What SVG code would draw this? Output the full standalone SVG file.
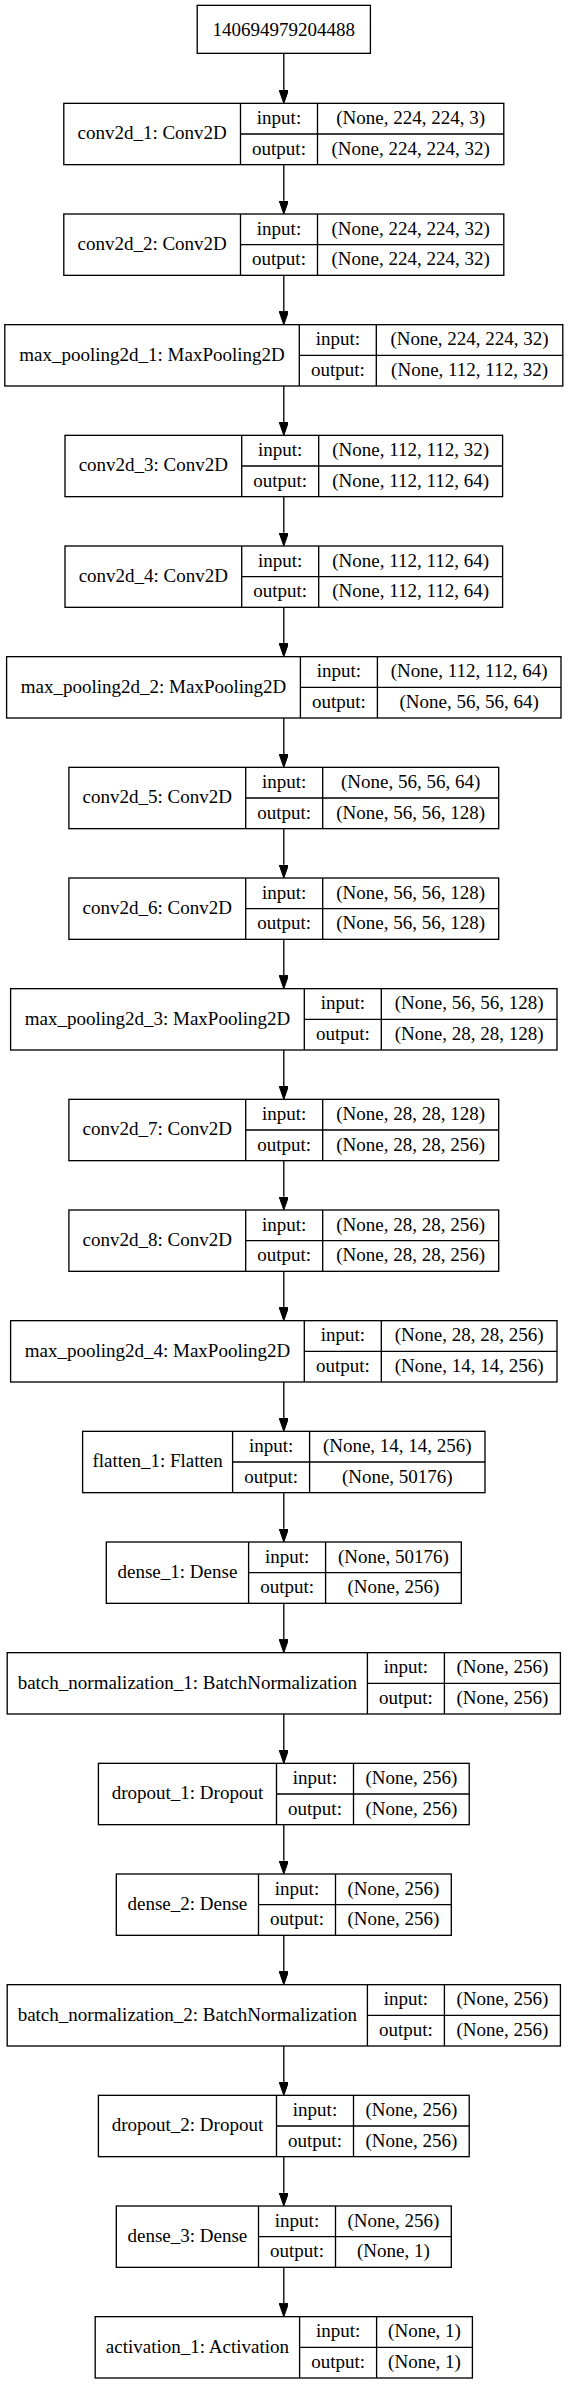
<svg xmlns="http://www.w3.org/2000/svg" width="569" height="2384" viewBox="0 0 569 2384">
<style>
text{font-family:"Liberation Serif","Times New Roman",serif;font-size:19px;fill:#000;text-anchor:middle}
.b{fill:#fff;stroke:#000;stroke-width:1.33}
.d{stroke:#000;stroke-width:1.33;fill:none}
.e{stroke:#000;stroke-width:1.33;fill:none;marker-end:url(#ah)}
</style>
<defs>
<marker id="ah" viewBox="0 0 13.33 9.33" refX="0" refY="4.67" markerWidth="13.33" markerHeight="9.33" markerUnits="userSpaceOnUse" orient="auto">
<path d="M0,0 L13.33,4.67 L0,9.33 z" fill="#000" stroke="#000" stroke-width="1"/>
</marker>
</defs>
<rect width="569" height="2384" fill="#fff"/>
<g id="connectors">
<path class="e" d="M283.8,53.33 V90"/>
<path class="e" d="M283.8,164.67 V200.67"/>
<path class="e" d="M283.8,275.33 V311.33"/>
<path class="e" d="M283.8,386 V422"/>
<path class="e" d="M283.8,496.67 V532.67"/>
<path class="e" d="M283.8,607.33 V643.33"/>
<path class="e" d="M283.8,718 V754"/>
<path class="e" d="M283.8,828.67 V864.67"/>
<path class="e" d="M283.8,939.33 V975.33"/>
<path class="e" d="M283.8,1050 V1086"/>
<path class="e" d="M283.8,1160.67 V1196.67"/>
<path class="e" d="M283.8,1271.33 V1307.33"/>
<path class="e" d="M283.8,1382 V1418"/>
<path class="e" d="M283.8,1492.67 V1528.67"/>
<path class="e" d="M283.8,1603.33 V1639.33"/>
<path class="e" d="M283.8,1714 V1750"/>
<path class="e" d="M283.8,1824.67 V1860.67"/>
<path class="e" d="M283.8,1935.33 V1971.33"/>
<path class="e" d="M283.8,2046 V2082"/>
<path class="e" d="M283.8,2156.67 V2192.67"/>
<path class="e" d="M283.8,2267.33 V2303.33"/>
</g>
<g id="input_node">
<rect class="b" x="197.2" y="5.33" width="173.2" height="48"/>
<text x="283.8" y="35.5">140694979204488</text>
</g>
<g id="conv2d_1" transform="translate(0,103.33)">
<rect class="b" x="63.8" y="0" width="440" height="61.33"/>
<path class="d" d="M240.5,0V61.33M317.5,0V61.33M240.5,30.67H503.8"/>
<text x="152.15" y="36">conv2d_1: Conv2D</text>
<text x="279" y="20.8">input:</text><text x="279" y="51.3">output:</text>
<text x="410.65" y="20.8">(None, 224, 224, 3)</text><text x="410.65" y="51.3">(None, 224, 224, 32)</text>
</g>
<g id="conv2d_2" transform="translate(0,214)">
<rect class="b" x="63.8" y="0" width="440" height="61.33"/>
<path class="d" d="M240.5,0V61.33M317.5,0V61.33M240.5,30.67H503.8"/>
<text x="152.15" y="36">conv2d_2: Conv2D</text>
<text x="279" y="20.8">input:</text><text x="279" y="51.3">output:</text>
<text x="410.65" y="20.8">(None, 224, 224, 32)</text><text x="410.65" y="51.3">(None, 224, 224, 32)</text>
</g>
<g id="max_pooling2d_1" transform="translate(0,324.67)">
<rect class="b" x="4.8" y="0" width="558" height="61.33"/>
<path class="d" d="M299.3,0V61.33M376.3,0V61.33M299.3,30.67H562.8"/>
<text x="152.05" y="36">max_pooling2d_1: MaxPooling2D</text>
<text x="337.8" y="20.8">input:</text><text x="337.8" y="51.3">output:</text>
<text x="469.55" y="20.8">(None, 224, 224, 32)</text><text x="469.55" y="51.3">(None, 112, 112, 32)</text>
</g>
<g id="conv2d_3" transform="translate(0,435.33)">
<rect class="b" x="65" y="0" width="437.6" height="61.33"/>
<path class="d" d="M241.7,0V61.33M318.7,0V61.33M241.7,30.67H502.6"/>
<text x="153.35" y="36">conv2d_3: Conv2D</text>
<text x="280.2" y="20.8">input:</text><text x="280.2" y="51.3">output:</text>
<text x="410.65" y="20.8">(None, 112, 112, 32)</text><text x="410.65" y="51.3">(None, 112, 112, 64)</text>
</g>
<g id="conv2d_4" transform="translate(0,546)">
<rect class="b" x="65" y="0" width="437.6" height="61.33"/>
<path class="d" d="M241.7,0V61.33M318.7,0V61.33M241.7,30.67H502.6"/>
<text x="153.35" y="36">conv2d_4: Conv2D</text>
<text x="280.2" y="20.8">input:</text><text x="280.2" y="51.3">output:</text>
<text x="410.65" y="20.8">(None, 112, 112, 64)</text><text x="410.65" y="51.3">(None, 112, 112, 64)</text>
</g>
<g id="max_pooling2d_2" transform="translate(0,656.67)">
<rect class="b" x="6.6" y="0" width="554.4" height="61.33"/>
<path class="d" d="M300.4,0V61.33M377.4,0V61.33M300.4,30.67H561"/>
<text x="153.5" y="36">max_pooling2d_2: MaxPooling2D</text>
<text x="338.9" y="20.8">input:</text><text x="338.9" y="51.3">output:</text>
<text x="469.2" y="20.8">(None, 112, 112, 64)</text><text x="469.2" y="51.3">(None, 56, 56, 64)</text>
</g>
<g id="conv2d_5" transform="translate(0,767.33)">
<rect class="b" x="68.9" y="0" width="429.8" height="61.33"/>
<path class="d" d="M245.7,0V61.33M322.7,0V61.33M245.7,30.67H498.7"/>
<text x="157.3" y="36">conv2d_5: Conv2D</text>
<text x="284.2" y="20.8">input:</text><text x="284.2" y="51.3">output:</text>
<text x="410.7" y="20.8">(None, 56, 56, 64)</text><text x="410.7" y="51.3">(None, 56, 56, 128)</text>
</g>
<g id="conv2d_6" transform="translate(0,878)">
<rect class="b" x="68.9" y="0" width="429.8" height="61.33"/>
<path class="d" d="M245.7,0V61.33M322.7,0V61.33M245.7,30.67H498.7"/>
<text x="157.3" y="36">conv2d_6: Conv2D</text>
<text x="284.2" y="20.8">input:</text><text x="284.2" y="51.3">output:</text>
<text x="410.7" y="20.8">(None, 56, 56, 128)</text><text x="410.7" y="51.3">(None, 56, 56, 128)</text>
</g>
<g id="max_pooling2d_3" transform="translate(0,988.67)">
<rect class="b" x="10.6" y="0" width="546.4" height="61.33"/>
<path class="d" d="M304.3,0V61.33M381.3,0V61.33M304.3,30.67H557"/>
<text x="157.45" y="36">max_pooling2d_3: MaxPooling2D</text>
<text x="342.8" y="20.8">input:</text><text x="342.8" y="51.3">output:</text>
<text x="469.15" y="20.8">(None, 56, 56, 128)</text><text x="469.15" y="51.3">(None, 28, 28, 128)</text>
</g>
<g id="conv2d_7" transform="translate(0,1099.33)">
<rect class="b" x="68.9" y="0" width="429.8" height="61.33"/>
<path class="d" d="M245.7,0V61.33M322.7,0V61.33M245.7,30.67H498.7"/>
<text x="157.3" y="36">conv2d_7: Conv2D</text>
<text x="284.2" y="20.8">input:</text><text x="284.2" y="51.3">output:</text>
<text x="410.7" y="20.8">(None, 28, 28, 128)</text><text x="410.7" y="51.3">(None, 28, 28, 256)</text>
</g>
<g id="conv2d_8" transform="translate(0,1210)">
<rect class="b" x="68.9" y="0" width="429.8" height="61.33"/>
<path class="d" d="M245.7,0V61.33M322.7,0V61.33M245.7,30.67H498.7"/>
<text x="157.3" y="36">conv2d_8: Conv2D</text>
<text x="284.2" y="20.8">input:</text><text x="284.2" y="51.3">output:</text>
<text x="410.7" y="20.8">(None, 28, 28, 256)</text><text x="410.7" y="51.3">(None, 28, 28, 256)</text>
</g>
<g id="max_pooling2d_4" transform="translate(0,1320.67)">
<rect class="b" x="10.6" y="0" width="546.4" height="61.33"/>
<path class="d" d="M304.3,0V61.33M381.3,0V61.33M304.3,30.67H557"/>
<text x="157.45" y="36">max_pooling2d_4: MaxPooling2D</text>
<text x="342.8" y="20.8">input:</text><text x="342.8" y="51.3">output:</text>
<text x="469.15" y="20.8">(None, 28, 28, 256)</text><text x="469.15" y="51.3">(None, 14, 14, 256)</text>
</g>
<g id="flatten_1" transform="translate(0,1431.33)">
<rect class="b" x="82.6" y="0" width="402.4" height="61.33"/>
<path class="d" d="M232.6,0V61.33M309.6,0V61.33M232.6,30.67H485"/>
<text x="157.6" y="36">flatten_1: Flatten</text>
<text x="271.1" y="20.8">input:</text><text x="271.1" y="51.3">output:</text>
<text x="397.3" y="20.8">(None, 14, 14, 256)</text><text x="397.3" y="51.3">(None, 50176)</text>
</g>
<g id="dense_1" transform="translate(0,1542)">
<rect class="b" x="106.3" y="0" width="355" height="61.33"/>
<path class="d" d="M248.6,0V61.33M325.6,0V61.33M248.6,30.67H461.3"/>
<text x="177.45" y="36">dense_1: Dense</text>
<text x="287.1" y="20.8">input:</text><text x="287.1" y="51.3">output:</text>
<text x="393.45" y="20.8">(None, 50176)</text><text x="393.45" y="51.3">(None, 256)</text>
</g>
<g id="batch_normalization_1" transform="translate(0,1652.67)">
<rect class="b" x="7.2" y="0" width="553.2" height="61.33"/>
<path class="d" d="M367.4,0V61.33M444.4,0V61.33M367.4,30.67H560.4"/>
<text x="187.3" y="36">batch_normalization_1: BatchNormalization</text>
<text x="405.9" y="20.8">input:</text><text x="405.9" y="51.3">output:</text>
<text x="502.4" y="20.8">(None, 256)</text><text x="502.4" y="51.3">(None, 256)</text>
</g>
<g id="dropout_1" transform="translate(0,1763.33)">
<rect class="b" x="98.4" y="0" width="370.8" height="61.33"/>
<path class="d" d="M276.5,0V61.33M353.5,0V61.33M276.5,30.67H469.2"/>
<text x="187.45" y="36">dropout_1: Dropout</text>
<text x="315" y="20.8">input:</text><text x="315" y="51.3">output:</text>
<text x="411.35" y="20.8">(None, 256)</text><text x="411.35" y="51.3">(None, 256)</text>
</g>
<g id="dense_2" transform="translate(0,1874)">
<rect class="b" x="116.3" y="0" width="335" height="61.33"/>
<path class="d" d="M258.5,0V61.33M335.5,0V61.33M258.5,30.67H451.3"/>
<text x="187.4" y="36">dense_2: Dense</text>
<text x="297" y="20.8">input:</text><text x="297" y="51.3">output:</text>
<text x="393.4" y="20.8">(None, 256)</text><text x="393.4" y="51.3">(None, 256)</text>
</g>
<g id="batch_normalization_2" transform="translate(0,1984.67)">
<rect class="b" x="7.2" y="0" width="553.2" height="61.33"/>
<path class="d" d="M367.4,0V61.33M444.4,0V61.33M367.4,30.67H560.4"/>
<text x="187.3" y="36">batch_normalization_2: BatchNormalization</text>
<text x="405.9" y="20.8">input:</text><text x="405.9" y="51.3">output:</text>
<text x="502.4" y="20.8">(None, 256)</text><text x="502.4" y="51.3">(None, 256)</text>
</g>
<g id="dropout_2" transform="translate(0,2095.33)">
<rect class="b" x="98.4" y="0" width="370.8" height="61.33"/>
<path class="d" d="M276.5,0V61.33M353.5,0V61.33M276.5,30.67H469.2"/>
<text x="187.45" y="36">dropout_2: Dropout</text>
<text x="315" y="20.8">input:</text><text x="315" y="51.3">output:</text>
<text x="411.35" y="20.8">(None, 256)</text><text x="411.35" y="51.3">(None, 256)</text>
</g>
<g id="dense_3" transform="translate(0,2206)">
<rect class="b" x="116.3" y="0" width="335" height="61.33"/>
<path class="d" d="M258.5,0V61.33M335.5,0V61.33M258.5,30.67H451.3"/>
<text x="187.4" y="36">dense_3: Dense</text>
<text x="297" y="20.8">input:</text><text x="297" y="51.3">output:</text>
<text x="393.4" y="20.8">(None, 256)</text><text x="393.4" y="51.3">(None, 1)</text>
</g>
<g id="activation_1" transform="translate(0,2316.67)">
<rect class="b" x="95.2" y="0" width="377.2" height="61.33"/>
<path class="d" d="M299.6,0V61.33M376.6,0V61.33M299.6,30.67H472.4"/>
<text x="197.4" y="36">activation_1: Activation</text>
<text x="338.1" y="20.8">input:</text><text x="338.1" y="51.3">output:</text>
<text x="424.5" y="20.8">(None, 1)</text><text x="424.5" y="51.3">(None, 1)</text>
</g>
</svg>
